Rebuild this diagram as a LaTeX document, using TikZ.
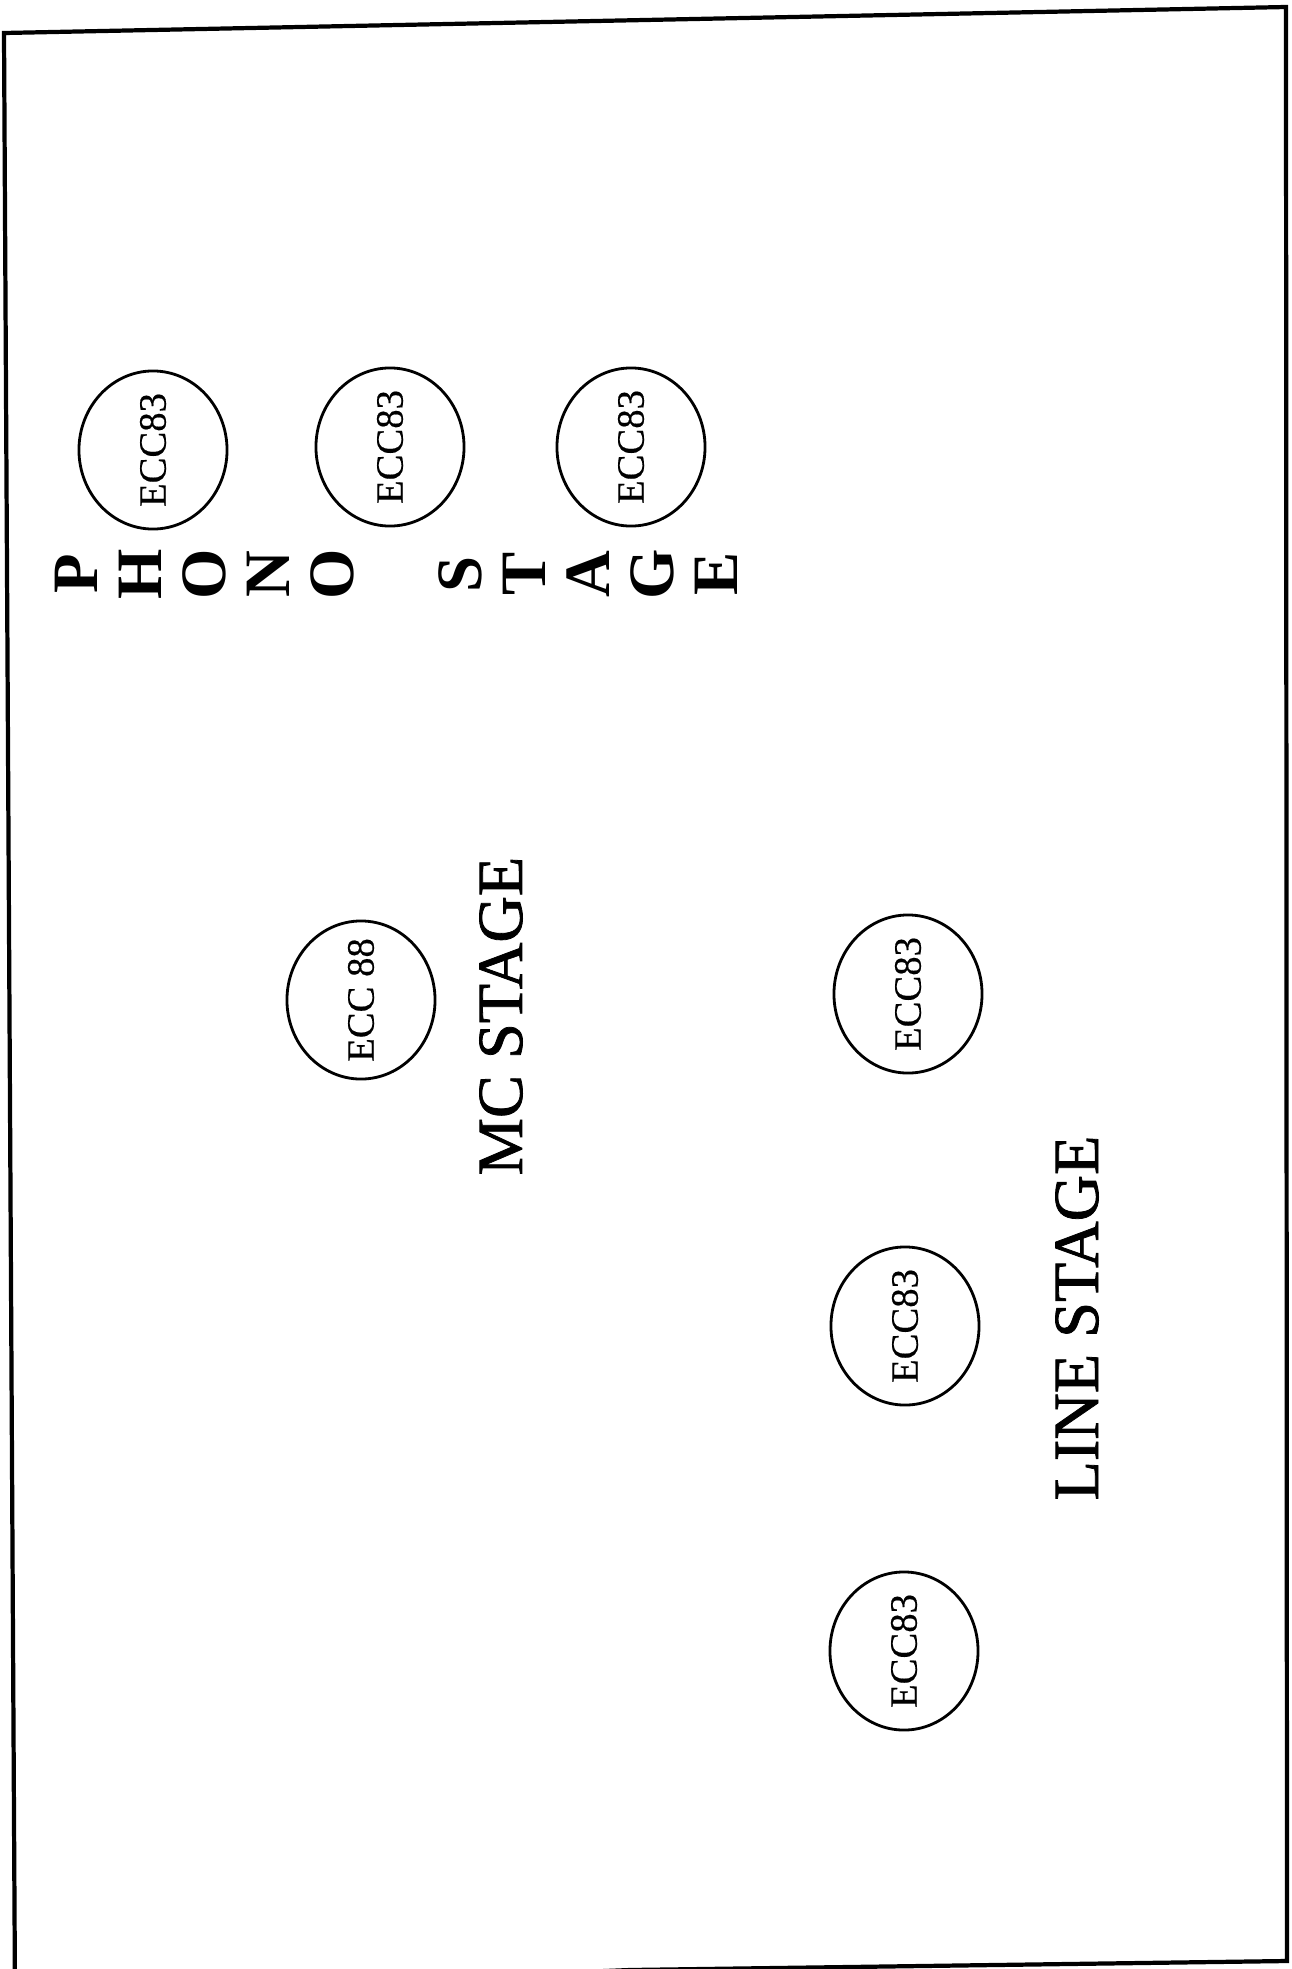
\documentclass[tikz,border=0pt]{standalone}
\usepackage{fontspec}
\setmainfont{Liberation Serif}
\newfontfamily\heavyserif{Liberation Serif}[FakeBold=1.2]
\newfontfamily\tubeserif{Liberation Serif}[FakeBold=0.4]
\usepackage{tikz}
\usetikzlibrary{positioning,shapes}
\tikzstyle{tube} = [ellipse, draw=black, line width=0.8pt, inner sep=0pt, minimum width=1.58cm, minimum height=1.48cm, rotate=90, font=\tubeserif\fontsize{11}{13}\selectfont]
\tikzstyle{stage} = [rotate=90, inner sep=0pt, font=\heavyserif\fontsize{18.3}{22}\selectfont]
\tikzstyle{letter} = [rotate=90, inner sep=0pt, font=\fontsize{18.4}{22}\selectfont\bfseries]
\newcommand{\tubename}[1]{\makebox[0pt]{#1}}

\begin{document}
\begin{tikzpicture}[x=0.01cm, y=-0.01cm]
			\useasboundingbox (0,0) rectangle (1292,1969);
			\draw [line width=1.2pt] (4,33) -- (1286,7) -- (1287,1961) -- (630,1970) -- (15,1995) -- cycle;
			%-----------------------------------------------
			\node (phonoa) [tube] at (153,450) {\tubename{ECC83}};
			\node (phonob) [tube] at (390,447) {\tubename{ECC83}};
			\node (phonoc) [tube] at (631,447) {\tubename{ECC83}};
			\foreach \ch [count=\i from 0] in {P,H,O,N,O,,S,T,A,G,E}
				\node (phono\i) [letter] at (76+64*\i,574) {\ch};
			%-----------------------------------------------
			\node (mc) [tube] at (361,1000) {\tubename{ECC 88}};
			\node (mclabel) [stage] at (501,1016) {MC STAGE};
			%-----------------------------------------------
			\node (linea) [tube] at (908,994) {\tubename{ECC83}};
			\node (lineb) [tube] at (905,1326) {\tubename{ECC83}};
			\node (linec) [tube] at (904,1651) {\tubename{ECC83}};
			\node (linelabel) [stage] at (1077,1318) {LINE STAGE};
\end{tikzpicture}
\end{document}
